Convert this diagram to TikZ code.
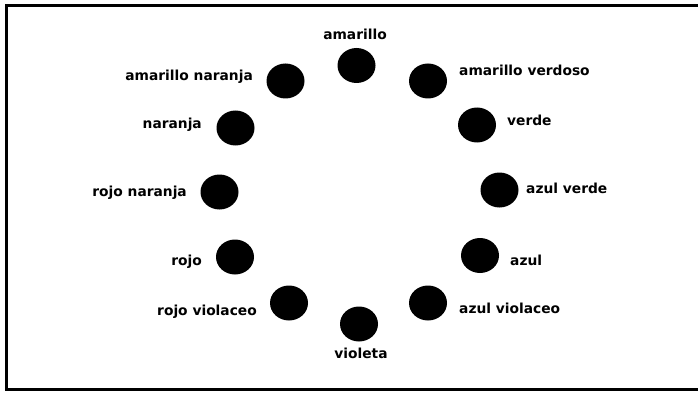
\documentclass[tikz,border=0pt]{standalone}
\usepackage{fontspec}
\setmainfont{DejaVu Sans}
\usetikzlibrary{shapes.geometric,positioning}
\tikzset{
  colorDot/.style={ellipse, fill=black, draw=none, minimum width=38pt, minimum height=35pt, inner sep=0pt},
  colorLabel/.style={inner sep=0pt, font=\fontsize{13.8}{15}\selectfont\bfseries},
  frameLine/.style={draw=black, line width=3pt}
}

\begin{document}
\begin{tikzpicture}[x=1pt,y=-1pt]
\useasboundingbox (0,0) rectangle (698,393);
\draw[frameLine] (698,6) -- (6,6) -- (6,389) -- (698,389);

% dots round the circle
\node[colorDot] (amarillo)     at (356.5,65.5) {};
\node[colorDot] (amaVerdoso)   at (428,81) {};
\node[colorDot] (verde)        at (477,125) {};
\node[colorDot] (azulVerde)    at (499.5,190) {};
\node[colorDot] (azul)         at (480,255.5) {};
\node[colorDot] (azulViolaceo) at (428,303) {};
\node[colorDot] (violeta)      at (359,324) {};
\node[colorDot] (rojoViolaceo) at (289,303) {};
\node[colorDot] (rojo)         at (235,257) {};
\node[colorDot] (rojoNaranja)  at (219.5,192) {};
\node[colorDot] (naranja)      at (235.5,128) {};
\node[colorDot] (amaNaranja)   at (285.5,81) {};

% labels
\node[colorLabel] (lAmarillo) at (355,34) {amarillo};
\node[colorLabel, anchor=west] (lAmaVerdoso) at (459,70) {amarillo verdoso};
\node[colorLabel, anchor=west] (lVerde) at (507,120) {verde};
\node[colorLabel, anchor=west] (lAzulVerde) at (526,188) {azul verde};
\node[colorLabel, anchor=west] (lAzul) at (510,260) {azul};
\node[colorLabel, anchor=west] (lAzulViolaceo) at (459,308) {azul violaceo};
\node[colorLabel] (lVioleta) at (361,353) {violeta};
\node[colorLabel, anchor=east] (lRojoViolaceo) at (257,312) {rojo violaceo};
\node[colorLabel, anchor=east] (lRojo) at (202,262) {rojo};
\node[colorLabel, anchor=east] (lRojoNaranja) at (187,193) {rojo naranja};
\node[colorLabel, anchor=east] (lNaranja) at (202,125) {naranja};
\node[colorLabel, anchor=east] (lAmaNaranja) at (253,77) {amarillo naranja};
\end{tikzpicture}
\end{document}
